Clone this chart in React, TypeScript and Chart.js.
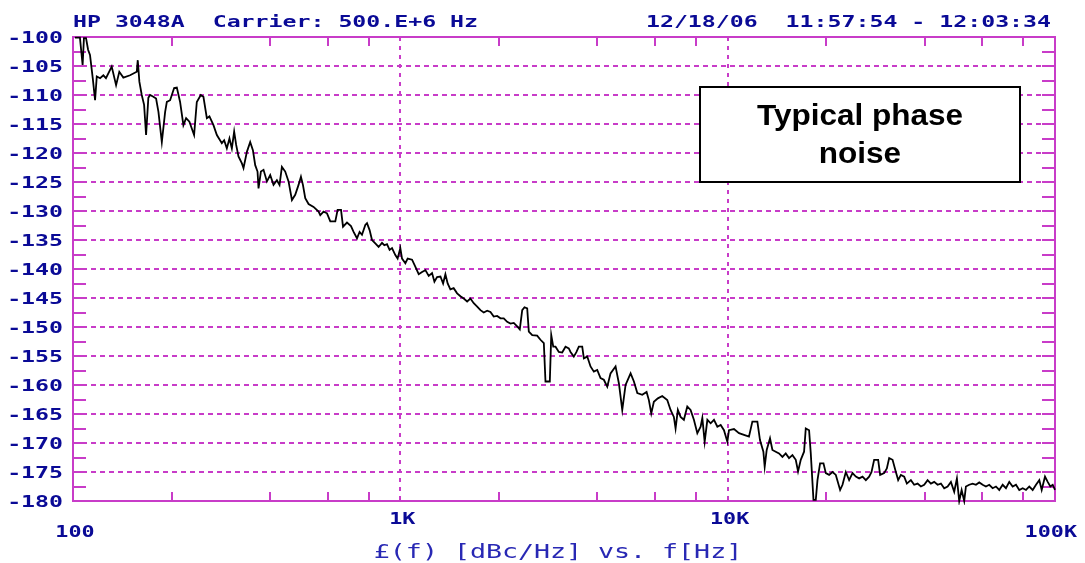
import React, { useEffect, useRef } from 'react';
import { Chart, registerables } from 'chart.js';

Chart.register(...registerables);

// ---- Data ----
const freqHz: number[] = [
  101.4, 105, 107, 108, 109.6, 111.2, 112.7, 114.9, 116.8, 118.2, 121, 123.8, 126.1, 131.3, 135.4, 138.5,
  142.5, 149.4, 156.6, 157.7, 159.5, 162.2, 164.9, 167.2, 169.9, 172, 176, 179.4, 182.4, 186.8, 191.2, 193.5,
  198, 200.4, 203.7, 207.6, 212.4, 217.4, 221.6, 226.8, 234.4, 238.9, 245.7, 250.3, 256.4, 261.1, 268.6, 275.1,
  284.9, 289.6, 295.1, 300.6, 305.7, 310.7, 315.1, 320.3, 328.1, 331.8, 339.8, 347.8, 354.5, 360.3, 366.2, 368.8,
  375, 382, 391.2, 400.4, 409.8, 419.7, 427.5, 434.7, 445, 455.5, 466.5, 477.4, 488.7, 497, 504, 512.3,
  524.4, 543.2, 562.7,
  569.4, 582.7, 597, 611, 632.9, 643.3, 658.9, 668.2, 687.1, 706.7, 719.8, 737.2, 750.8, 763.6, 781.6, 791,
  805.6, 819.4, 838.5, 858.2, 879, 893.3, 910.5, 927.3, 943.2, 965.4, 981.1, 1000, 1012, 1036, 1053, 1086,
  1111, 1138, 1165, 1193, 1221, 1250, 1271, 1295, 1326, 1351, 1373, 1395, 1422, 1455, 1491, 1526,
  1562, 1600, 1637, 1676, 1717, 1757, 1798, 1842, 1885, 1929, 1976, 2023, 2070, 2120, 2170, 2221,
  2275, 2317, 2357, 2395, 2441, 2469, 2529, 2618, 2680, 2744, 2776, 2862, 2891, 2932, 2979, 3049,
  3122, 3196, 3271,
  3311, 3388, 3453, 3510, 3595, 3636, 3724, 3811, 3901, 3995, 4089, 4185, 4287, 4387, 4545, 4652,
  4764, 4876, 5052, 5171, 5296, 5484, 5653, 5745, 5843, 5950, 6120, 6312, 6538, 6692, 6849, 6932,
  7044, 7180, 7349, 7527, 7704, 7886, 8078, 8268, 8368, 8506, 8669, 8873, 9082, 9302, 9520, 9743,
  9979, 10092, 10455, 10830, 11216, 11617, 11898, 12324, 12552, 12856, 12974, 13160, 13470, 13700, 14022, 14352,
  14699, 15045, 15398, 15772, 16145, 16408, 16722, 17116,
  17322, 17730, 17943, 18286, 18586, 18810, 19156, 19621, 19945, 20415, 20909, 21400, 22057, 22431, 22959, 23499,
  24069, 24635, 25214, 25824, 26430, 27052, 27511, 28022, 28822, 29229, 30067, 30640, 31144, 31899, 32648, 33180,
  33820, 34615, 35276, 36283, 37135, 38035, 38930, 39845, 40810, 41770, 42753, 43788, 44818, 45872, 46982, 48087,
  49217, 50160, 50977, 51850, 52804, 53440, 54699, 56022, 57339, 58688, 60108, 61520, 62967, 64493, 66010, 67562,
  69199, 70826, 72492, 74249, 75995, 77782, 79667, 81541, 83458, 85480, 87491, 89547, 91066, 93210, 95008, 96756,
  98400, 100000,
];

const phaseNoiseDbc: number[] = [
  -100.1, -100.1, -104.8, -100.2, -100.2, -102.2, -103.1, -107.1, -110.9, -106.8, -107.1, -106.6, -107.1, -105.1, -108.3, -106.0,
  -107.0, -106.6, -106.0, -104.0, -107.7, -110.0, -111.7, -116.9, -110.5, -110.0, -110.3, -110.6, -112.9, -118.1, -112.9, -111.2,
  -110.9, -110.0, -108.8, -108.7, -111.2, -115.2, -114.0, -114.6, -116.9, -111.2, -110.0, -110.3, -114.0, -113.7, -115.2, -116.9,
  -118.3, -117.8, -119.2, -117.5, -119.2, -116.3, -118.6, -120.6, -121.8, -122.6, -119.8, -118.1, -119.5, -122.1, -123.2, -126.1,
  -123.2, -122.9, -124.9, -123.8, -125.5, -124.7, -125.5, -122.4, -123.2, -124.9, -128.1, -127.2, -125.5, -124.1, -125.5, -127.8,
  -128.8, -129.3, -130.1,
  -130.7, -130.1, -130.4, -131.8, -131.8, -129.8, -129.8, -132.7, -132.0, -132.6, -133.6, -134.7, -133.6, -134.1, -132.4, -132.1,
  -133.3, -135.0, -135.6, -136.2, -135.5, -135.9, -135.7, -136.7, -136.4, -137.6, -138.2, -136.4, -138.2, -139.0, -138.2, -138.4,
  -139.6, -140.9, -140.5, -140.2, -141.2, -140.7, -142.2, -141.4, -141.3, -142.5, -140.9, -142.5, -143.5, -143.3, -144.2, -144.7,
  -145.1, -145.6, -145.1, -145.9, -146.5, -147.1, -147.5, -147.2, -147.4, -148.2, -148.1, -148.5, -148.5, -149.1, -149.4, -149.3,
  -149.9, -150.4, -147.1, -146.6, -146.8, -150.8, -151.4, -151.5, -152.2, -152.8, -159.4, -159.4, -151.4, -153.4, -153.4, -154.3,
  -154.4, -153.4, -153.7,
  -154.3, -155.1, -154.3, -153.4, -153.4, -155.4, -155.1, -156.8, -157.7, -157.4, -158.8, -159.1, -160.3, -158.0, -156.8, -159.7,
  -164.3, -160.0, -158.0, -159.4, -161.4, -161.7, -161.2, -162.6, -164.9, -162.9, -162.3, -161.9, -162.6, -164.3, -165.5, -167.5,
  -164.3, -165.5, -166.0, -163.7, -164.3, -166.0, -168.3, -167.2, -165.7, -169.8, -166.0, -166.6, -166.0, -167.2, -166.9, -167.8,
  -169.8, -167.8, -167.6, -168.3, -168.6, -168.9, -166.3, -166.3, -169.5, -171.5, -174.1, -171.2, -169.2, -171.2, -171.5, -171.8,
  -172.4, -171.8, -172.6, -172.1, -172.9, -174.9, -172.9, -171.5,
  -167.5, -167.8, -171.8, -179.8, -179.8, -176.4, -173.5, -173.5, -175.2, -175.5, -175.0, -175.5, -178.1, -177.2, -175.0, -176.4,
  -175.2, -175.8, -176.1, -175.8, -176.4, -175.8, -175.0, -172.9, -172.9, -175.5, -175.2, -174.4, -172.6, -172.9, -175.0, -176.4,
  -175.5, -175.8, -177.0, -176.4, -177.2, -177.0, -177.5, -177.2, -176.4, -177.0, -176.7, -177.2, -177.0, -177.8, -177.5, -176.7,
  -178.4, -176.1, -180.0, -178.1, -180.0, -177.5, -177.2, -177.0, -177.2, -176.8, -177.2, -177.5, -177.2, -177.8, -177.5, -178.1,
  -177.2, -177.8, -176.7, -177.5, -177.2, -178.1, -177.8, -178.1, -177.5, -178.1, -177.2, -176.4, -178.1, -175.8, -176.7, -177.5,
  -177.2, -178.1,
];

const yMajorTicks: number[] = [
  -100, -105, -110, -115, -120, -125, -130, -135, -140, -145, -150, -155, -160, -165, -170, -175, -180,
];
const yMinorTicks: number[] = [
  -102.5, -107.5, -112.5, -117.5, -122.5, -127.5, -132.5, -137.5, -142.5, -147.5, -152.5, -157.5, -162.5,
  -167.5, -172.5, -177.5,
];
const xMajorTicks: number[] = [100, 1000, 10000, 100000];
const xTickLabels: string[] = ['100', '1K', '10K', '100K'];
const xMinorTicks: number[] = [200, 400, 600, 800, 2000, 4000, 6000, 8000, 20000, 40000, 60000, 80000];

const headerLeft = 'HP 3048A  Carrier: 500.E+6 Hz';
const headerRight = '12/18/06  11:57:54 - 12:03:34';
const xAxisTitle = '£(f) [dBc/Hz] vs. f[Hz]';
const noteLines: string[] = ['Typical phase', 'noise'];

// ---- Styles ----
const MAG = '#c83cc8';
const NAVY = '#0a0a96';
const TITLE_BLUE = '#2828b4';
const MONO = "'DejaVu Sans Mono', monospace";

function wideText(
  ctx: CanvasRenderingContext2D,
  text: string,
  x: number,
  y: number,
  align: 'left' | 'right' | 'center',
  font: string,
  sx: number,
  color: string
) {
  ctx.save();
  ctx.font = font;
  ctx.fillStyle = color;
  ctx.textAlign = 'left';
  ctx.textBaseline = 'alphabetic';
  const w = ctx.measureText(text).width * sx;
  const left = align === 'left' ? x : align === 'right' ? x - w : x - w / 2;
  ctx.translate(left, y);
  ctx.scale(sx, 1);
  ctx.fillText(text, 0, 0);
  ctx.restore();
  return w;
}

const framePlugin = {
  id: 'hpFrame',
  beforeDatasetsDraw(chart: any) {
    const { ctx, chartArea, scales } = chart;
    const { left, right, top, bottom } = chartArea;
    const xs = scales.x;
    const ys = scales.y;
    ctx.save();
    ctx.strokeStyle = MAG;
    ctx.lineWidth = 2;
    // horizontal dashed grid
    ctx.setLineDash([5, 4]);
    yMajorTicks.forEach((v) => {
      if (v === ys.min || v === ys.max) return;
      const py = Math.round(ys.getPixelForValue(v));
      ctx.beginPath();
      ctx.moveTo(left, py);
      ctx.lineTo(right, py);
      ctx.stroke();
    });
    // vertical dotted grid at decades
    ctx.setLineDash([4, 5]);
    xMajorTicks.forEach((v) => {
      if (v === xs.min || v === xs.max) return;
      const px = Math.round(xs.getPixelForValue(v));
      ctx.beginPath();
      ctx.moveTo(px, top);
      ctx.lineTo(px, bottom);
      ctx.stroke();
    });
    ctx.setLineDash([]);
    // y ticks on left and right edges
    [...yMajorTicks, ...yMinorTicks].forEach((v) => {
      const py = Math.round(ys.getPixelForValue(v));
      ctx.beginPath();
      ctx.moveTo(left, py);
      ctx.lineTo(left + 13, py);
      ctx.moveTo(right, py);
      ctx.lineTo(right - 13, py);
      ctx.stroke();
    });
    // x minor ticks on top and bottom edges
    xMinorTicks.forEach((v) => {
      const px = Math.round(xs.getPixelForValue(v));
      ctx.beginPath();
      ctx.moveTo(px, top);
      ctx.lineTo(px, top + 9);
      ctx.moveTo(px, bottom);
      ctx.lineTo(px, bottom - 9);
      ctx.stroke();
    });
    // frame
    ctx.strokeRect(left, top, right - left, bottom - top);
    ctx.restore();
  },
  afterDraw(chart: any) {
    const { ctx, chartArea, scales, width } = chart;
    const { left, right, top } = chartArea;
    const xs = scales.x;
    const ys = scales.y;
    // y tick labels
    yMajorTicks.forEach((v) => {
      const py = ys.getPixelForValue(v);
      wideText(ctx, String(v), left - 10, py + 6, 'right', `bold 16px ${MONO}`, 1.45, NAVY);
    });
    // x tick labels (staggered: end labels lower)
    xMajorTicks.forEach((v, i) => {
      const px = xs.getPixelForValue(v);
      const isEnd = i === 0 || i === xMajorTicks.length - 1;
      const font = `bold 15px ${MONO}`;
      ctx.save();
      ctx.font = font;
      const w = ctx.measureText(xTickLabels[i]).width * 1.45;
      ctx.restore();
      let cx = px + 2;
      cx = Math.min(cx, width - 8 - w / 2);
      wideText(ctx, xTickLabels[i], cx, isEnd ? 537 : 524, 'center', font, 1.45, NAVY);
    });
    // header
    wideText(ctx, headerLeft, left, top - 10, 'left', `bold 16px ${MONO}`, 1.45, NAVY);
    wideText(ctx, headerRight, right - 4, top - 10, 'right', `bold 16px ${MONO}`, 1.45, NAVY);
    // x axis title
    wideText(ctx, xAxisTitle, (left + right) / 2 - 6, 558, 'center', `19px ${MONO}`, 1.4, TITLE_BLUE);

    // annotation box
    const boxL = 700, boxT = 87, boxW = 320, boxH = 95;
    ctx.save();
    ctx.fillStyle = '#ffffff';
    ctx.fillRect(boxL, boxT, boxW, boxH);
    ctx.strokeStyle = '#000000';
    ctx.lineWidth = 2;
    ctx.strokeRect(boxL, boxT, boxW, boxH);
    ctx.restore();
    const font = "bold 30px 'Liberation Sans', Arial, sans-serif";
    wideText(ctx, noteLines[0], boxL + boxW / 2, 125, 'center', font, 1.05, '#000');
    wideText(ctx, noteLines[1], boxL + boxW / 2, 163, 'center', font, 1.05, '#000');
  },
};

export default function App() {
  const ref = useRef<HTMLCanvasElement | null>(null);
  useEffect(() => {
    const canvas = ref.current;
    if (!canvas) return;
    const points = freqHz.map((f, i) => ({ x: f, y: phaseNoiseDbc[i] }));
    const chart = new Chart(canvas, {
      type: 'line',
      data: {
        datasets: [
          {
            data: points,
            borderColor: '#000000',
            borderWidth: 1.8,
            pointRadius: 0,
            tension: 0,
            fill: false,
            clip: 4,
          } as any,
        ],
      },
      options: {
        responsive: false,
        animation: false,
        devicePixelRatio: 1,
        layout: { padding: { left: 73, right: 30, top: 37, bottom: 62 } },
        plugins: { legend: { display: false }, tooltip: { enabled: false } },
        scales: {
          x: { type: 'logarithmic', min: 100, max: 100000, display: false },
          y: { type: 'linear', min: -180, max: -100, display: false },
        },
      },
      plugins: [framePlugin],
    });
    return () => chart.destroy();
  }, []);
  return (
    <div style={{ position: 'fixed', left: 0, top: 0, width: 1085, height: 563, background: '#ffffff' }}>
      <canvas ref={ref} width={1085} height={563} style={{ display: 'block', width: 1085, height: 563 }} />
    </div>
  );
}
